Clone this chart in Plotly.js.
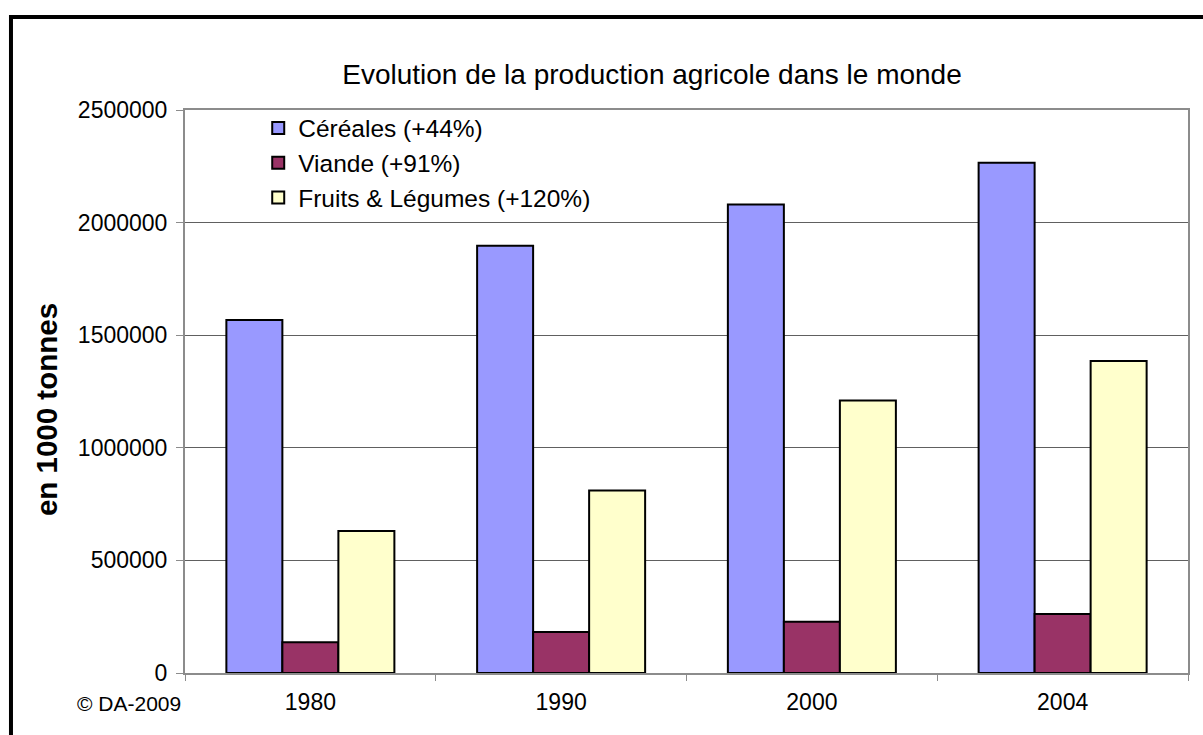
<!DOCTYPE html>
<html>
<head>
<meta charset="utf-8">
<script src="https://cdn.plot.ly/plotly-3.0.1.min.js"></script>
<style>html,body{margin:0;padding:0;background:#fff;}#chart{width:1203px;height:735px;}</style>
</head>
<body>
<div id="chart"></div>
<script>
const years = ["1980", "1990", "2000", "2004"];
const cereales = [1567000, 1897000, 2080000, 2266000];
const viande = [137000, 182000, 228000, 262000];
const fruitsLegumes = [630000, 810000, 1210000, 1385000];
const seriesNames = ["Céréales (+44%)", "Viande (+91%)", "Fruits & Légumes (+120%)"];
const yTickVals = [0, 500000, 1000000, 1500000, 2000000, 2500000];

const FONT = "Liberation Sans, Arial, Helvetica, sans-serif";
const colors = ["#9999FF", "#993366", "#FFFFCC"];
const seriesData = [cereales, viande, fruitsLegumes];

const traces = seriesData.map((vals, i) => ({
  type: "bar",
  name: seriesNames[i],
  x: years,
  y: vals,
  marker: {color: colors[i], line: {color: "#000000", width: 2}},
  hoverinfo: "x+y+name"
}));

const layout = {
  width: 1203,
  height: 735,
  margin: {l: 185, r: 15, t: 110, b: 62, pad: 0},
  paper_bgcolor: "#ffffff",
  plot_bgcolor: "#ffffff",
  font: {family: FONT, color: "#000000"},
  title: {
    text: "Evolution de la production agricole dans le monde",
    font: {family: FONT, size: 28, color: "#000000"},
    x: 0.4656, xref: "paper", xanchor: "center",
    y: 0.899, yref: "container", yanchor: "middle"
  },
  barmode: "group",
  bargap: 0.33,
  bargroupgap: 0,
  showlegend: true,
  legend: {
    x: 0.073, y: 1.008, xref: "paper", yref: "paper", xanchor: "left", yanchor: "top",
    bgcolor: "rgba(255,255,255,0)",
    font: {family: FONT, size: 24.5, color: "#000000"},
    tracegroupgap: 0,
    itemclick: false, itemdoubleclick: false
  },
  xaxis: {
    type: "category",
    showline: true, linecolor: "#8c8c8c", linewidth: 2, mirror: true,
    ticks: "outside", tickson: "boundaries", ticklen: 6, tickcolor: "#8c8c8c", tickwidth: 1,
    ticklabelstandoff: 7,
    tickfont: {family: FONT, size: 23, color: "#000000"},
    showgrid: false, zeroline: false, fixedrange: true
  },
  yaxis: {
    range: [0, 2500000],
    tickvals: yTickVals,
    tickformat: "d",
    showline: true, linecolor: "#8c8c8c", linewidth: 2, mirror: true,
    ticks: "outside", ticklen: 7, tickcolor: "#8c8c8c", tickwidth: 1,
    ticklabelstandoff: 4,
    tickfont: {family: FONT, size: 23, color: "#000000"},
    showgrid: true, gridcolor: "#606060", gridwidth: 1,
    zeroline: false, fixedrange: true
  },
  shapes: [{
    type: "rect", xref: "paper", yref: "paper", layer: "above",
    x0: -0.1735, x1: 1.1, y0: -0.3, y1: 1.1652,
    line: {color: "#000000", width: 4}, fillcolor: "rgba(0,0,0,0)"
  }],
  annotations: [{
    text: "© DA-2009", xref: "paper", yref: "paper",
    x: -0.002, y: -0.055, xanchor: "right", yanchor: "middle", showarrow: false,
    font: {family: FONT, size: 21, color: "#000000"}
  }, {
    text: "<b>en 1000 tonnes</b>", xref: "paper", yref: "paper",
    x: -0.138, y: 0.468, xanchor: "center", yanchor: "middle", textangle: -90, showarrow: false,
    font: {family: FONT, size: 29.5, color: "#000000"}
  }]
};

Plotly.newPlot("chart", traces, layout, {displayModeBar: false});
</script>
</body>
</html>
